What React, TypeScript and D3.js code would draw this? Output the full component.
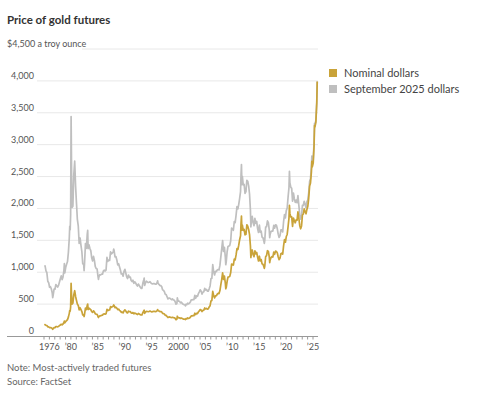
import * as d3 from "d3";

const DATES = [
  "1975-01","1975-03","1975-05","1975-07","1975-09","1975-11",
  "1976-01","1976-03","1976-05","1976-07","1976-08","1976-09","1976-11",
  "1977-01","1977-03","1977-05","1977-07","1977-09","1977-11",
  "1978-01","1978-03","1978-05","1978-07","1978-09","1978-10","1978-11",
  "1979-01","1979-03","1979-05","1979-07","1979-09","1979-10","1979-11","1979-12",
  "1980-01","1980-02","1980-03","1980-05","1980-07","1980-09","1980-11",
  "1981-01","1981-03","1981-05","1981-07","1981-09","1981-11",
  "1982-01","1982-03","1982-05","1982-06","1982-07","1982-09","1982-11",
  "1983-01","1983-02","1983-03","1983-05","1983-07","1983-09","1983-11",
  "1984-01","1984-03","1984-05","1984-07","1984-09","1984-11",
  "1985-01","1985-02","1985-03","1985-05","1985-07","1985-09","1985-11",
  "1986-01","1986-03","1986-05","1986-07","1986-09","1986-11",
  "1987-01","1987-03","1987-05","1987-07","1987-09","1987-11","1987-12",
  "1988-01","1988-03","1988-05","1988-07","1988-09","1988-11",
  "1989-01","1989-03","1989-05","1989-07","1989-09","1989-11",
  "1990-01","1990-03","1990-05","1990-07","1990-09","1990-11",
  "1991-01","1991-03","1991-05","1991-07","1991-09","1991-11",
  "1992-01","1992-03","1992-05","1992-07","1992-09","1992-11",
  "1993-01","1993-03","1993-05","1993-07","1993-08","1993-09","1993-11",
  "1994-01","1994-03","1994-05","1994-07","1994-09","1994-11",
  "1995-01","1995-03","1995-05","1995-07","1995-09","1995-11",
  "1996-01","1996-02","1996-03","1996-05","1996-07","1996-09","1996-11",
  "1997-01","1997-03","1997-05","1997-07","1997-09","1997-11",
  "1998-01","1998-03","1998-05","1998-07","1998-09","1998-11",
  "1999-01","1999-03","1999-05","1999-07","1999-09","1999-10","1999-11",
  "2000-01","2000-03","2000-05","2000-07","2000-09","2000-11",
  "2001-01","2001-03","2001-04","2001-05","2001-07","2001-09","2001-11",
  "2002-01","2002-03","2002-05","2002-07","2002-09","2002-11",
  "2003-01","2003-03","2003-05","2003-07","2003-09","2003-11",
  "2004-01","2004-03","2004-05","2004-07","2004-09","2004-11",
  "2005-01","2005-03","2005-05","2005-07","2005-09","2005-11",
  "2006-01","2006-03","2006-05","2006-07","2006-09","2006-11",
  "2007-01","2007-03","2007-05","2007-07","2007-09","2007-11",
  "2008-01","2008-03","2008-05","2008-07","2008-09","2008-10","2008-11",
  "2009-01","2009-03","2009-05","2009-07","2009-09","2009-11",
  "2010-01","2010-03","2010-05","2010-07","2010-09","2010-11",
  "2011-01","2011-03","2011-05","2011-07","2011-08","2011-09","2011-10","2011-11",
  "2012-01","2012-03","2012-05","2012-07","2012-09","2012-11",
  "2013-01","2013-03","2013-05","2013-06","2013-07","2013-09","2013-11",
  "2014-01","2014-03","2014-05","2014-07","2014-09","2014-11",
  "2015-01","2015-03","2015-05","2015-07","2015-09","2015-11","2015-12",
  "2016-01","2016-03","2016-05","2016-07","2016-09","2016-11","2016-12",
  "2017-01","2017-03","2017-05","2017-07","2017-09","2017-11",
  "2018-01","2018-03","2018-05","2018-07","2018-09","2018-11",
  "2019-01","2019-03","2019-05","2019-07","2019-09","2019-11",
  "2020-01","2020-03","2020-05","2020-07","2020-08","2020-09","2020-11",
  "2021-01","2021-03","2021-05","2021-07","2021-09","2021-11",
  "2022-01","2022-03","2022-05","2022-07","2022-09","2022-11",
  "2023-01","2023-03","2023-05","2023-07","2023-09","2023-11",
  "2024-01","2024-03","2024-05","2024-07","2024-09","2024-10","2024-11",
  "2025-01","2025-03","2025-04","2025-05","2025-07","2025-09","2025-10",
];

// nominal dollars per troy ounce
const NOMINAL = [
  176, 178, 167, 165, 144, 142,
  131, 133, 128, 118, 106, 114, 131,
  132, 148, 147, 144, 150, 162,
  173, 184, 176, 188, 212, 235, 206,
  227, 242, 257, 296, 355, 400, 392, 456,
  825, 640, 500, 515, 645, 710, 620,
  557, 500, 480, 410, 443, 413,
  384, 330, 333, 305, 340, 436, 415,
  480, 500, 415, 437, 422, 413, 382,
  370, 395, 377, 348, 341, 341,
  303, 290, 304, 317, 317, 323, 325,
  345, 346, 342, 348, 418, 398,
  408, 409, 460, 450, 460, 468, 487,
  477, 444, 451, 437, 413, 421,
  404, 390, 371, 375, 362, 393,
  410, 393, 369, 362, 390, 382,
  384, 363, 357, 368, 349, 360,
  354, 344, 337, 353, 345, 335,
  329, 330, 367, 392, 405, 355, 374,
  387, 384, 381, 385, 392, 384,
  379, 382, 385, 386, 383, 386,
  400, 414, 396, 392, 383, 383, 378,
  355, 352, 345, 324, 323, 306,
  289, 297, 299, 293, 289, 294,
  287, 286, 277, 256, 264, 310, 294,
  284, 286, 275, 282, 273, 266,
  266, 263, 258, 272, 268, 283, 276,
  282, 294, 314, 314, 319, 319,
  357, 336, 356, 351, 380, 393,
  414, 407, 384, 401, 406, 439,
  424, 434, 422, 424, 456, 476,
  549, 557, 700, 633, 598, 629,
  631, 655, 668, 665, 712, 806,
  889, 990, 889, 940, 829, 740, 760,
  858, 924, 928, 934, 996, 1128,
  1118, 1113, 1205, 1193, 1271, 1370,
  1356, 1424, 1510, 1572, 1760, 1880, 1660, 1739,
  1656, 1673, 1586, 1594, 1744, 1721,
  1670, 1593, 1414, 1230, 1286, 1349, 1276,
  1244, 1336, 1288, 1311, 1239, 1176,
  1251, 1179, 1199, 1131, 1125, 1086, 1060,
  1097, 1246, 1260, 1337, 1327, 1239, 1150,
  1192, 1231, 1246, 1237, 1315, 1281,
  1331, 1325, 1303, 1238, 1198, 1221,
  1291, 1300, 1284, 1413, 1511, 1470,
  1560, 1592, 1715, 1847, 2050, 1922, 1866,
  1867, 1718, 1850, 1807, 1775, 1822,
  1817, 1947, 1849, 1733, 1681, 1726,
  1898, 1913, 1992, 1951, 1916, 1985,
  2034, 2159, 2350, 2399, 2571, 2740, 2651,
  2710, 2983, 3300, 3280, 3350, 3665, 3990,
];

// September 2025 dollars per troy ounce
const REAL = [
  1096, 1098, 1020, 992, 858, 836,
  764, 773, 736, 673, 601, 643, 734,
  733, 807, 789, 768, 794, 847,
  898, 942, 884, 927, 1030, 1135, 989,
  1078, 1123, 1167, 1311, 1541, 1720, 1666, 1911,
  3440, 2624, 2015, 2034, 2522, 2741, 2350,
  2078, 1830, 1728, 1451, 1537, 1421,
  1321, 1132, 1129, 1025, 1132, 1448, 1374,
  1594, 1655, 1370, 1429, 1372, 1334, 1226,
  1177, 1248, 1184, 1086, 1057, 1050,
  930, 887, 927, 961, 957, 969, 969,
  1021, 1031, 1019, 1034, 1233, 1170,
  1191, 1186, 1320, 1287, 1302, 1315, 1364,
  1336, 1239, 1245, 1193, 1115, 1132,
  1083, 1034, 972, 975, 938, 1014,
  1046, 990, 926, 901, 956, 924,
  925, 871, 853, 876, 827, 850,
  832, 802, 782, 815, 794, 767,
  747, 746, 826, 878, 907, 792, 834,
  859, 849, 838, 843, 851, 833,
  819, 817, 820, 822, 812, 814,
  840, 865, 824, 811, 793, 789, 775,
  724, 715, 697, 654, 649, 615,
  581, 594, 595, 583, 572, 582,
  565, 563, 540, 499, 510, 598, 567,
  545, 543, 520, 530, 511, 497,
  492, 484, 472, 495, 490, 515, 505,
  516, 532, 568, 565, 571, 571,
  639, 591, 630, 621, 665, 692,
  725, 704, 657, 686, 694, 746,
  721, 729, 705, 704, 739, 785,
  900, 902, 1120, 1006, 957, 1013,
  1010, 1035, 1042, 1037, 1111, 1241,
  1369, 1495, 1325, 1391, 1235, 1117, 1163,
  1321, 1404, 1411, 1420, 1494, 1692,
  1677, 1658, 1795, 1778, 1894, 2028,
  1993, 2065, 2159, 2264, 2517, 2688, 2374, 2504,
  2368, 2376, 2236, 2263, 2442, 2427,
  2355, 2230, 1980, 1710, 1788, 1875, 1774,
  1729, 1844, 1765, 1796, 1685, 1623,
  1739, 1627, 1643, 1549, 1541, 1488, 1452,
  1503, 1707, 1714, 1805, 1778, 1660, 1541,
  1597, 1637, 1645, 1645, 1736, 1691,
  1744, 1736, 1681, 1597, 1545, 1575,
  1665, 1664, 1631, 1795, 1904, 1852,
  1966, 2006, 2178, 2327, 2583, 2403, 2333,
  2315, 2113, 2239, 2150, 2095, 2132,
  2090, 2200, 2052, 1906, 1832, 1881,
  2050, 2047, 2112, 2068, 2012, 2104,
  2136, 2245, 2421, 2471, 2648, 2822, 2731,
  2764, 3043, 3333, 3313, 3384, 3665, 3990,
];

const Y_TICKS = [0, 500, 1000, 1500, 2000, 2500, 3000, 3500, 4000];
const X_TICK_YEARS = [1976, 1980, 1985, 1990, 1995, 2000, 2005, 2010, 2015, 2020, 2025];
const X_TICK_LABELS = ["1976", "\u201980", "\u201985", "\u201990", "\u201995", "2000", "\u201905", "\u201910", "\u201915", "\u201920", "\u201925"];
const SERIES = ["Nominal dollars", "September 2025 dollars"];

const WIDTH = 478;
const HEIGHT = 396;
const GOLD = "#c9a339";
const GRAY = "#bfbfbf";
const FONT = "Lato, 'Noto Sans', sans-serif";

const parseMonth = (s: string) => {
  const [y, m] = s.split("-").map(Number);
  return new Date(y, m - 1, 15);
};

const App = () => {
  const x = d3
    .scaleTime()
    .domain([new Date(1975, 0, 1), new Date(2025, 0, 1)])
    .range([44, 313]);
  const y = d3.scaleLinear().domain([0, 4500]).range([336, 49]);

  const dates = DATES.map(parseMonth);
  const line = d3
    .line<number>()
    .x((_, i) => x(dates[i]))
    .y((d) => y(d));

  const allYears = d3.range(1975, 2026);

  return (
    <svg width={WIDTH} height={HEIGHT} style={{ position: "absolute", left: 0, top: 0 }} fontFamily={FONT}>
      <rect width={WIDTH} height={HEIGHT} fill="#fff" />
      <text x={7} y={24} fontSize={11.5} fontWeight={700} fill="#333">
        Price of gold futures
      </text>

      {/* gridlines */}
      <line x1={82} x2={318} y1={y(4500)} y2={y(4500)} stroke="#e8e8e8" />
      {Y_TICKS.filter((d) => d > 0).map((d) => (
        <line key={d} x1={37} x2={318} y1={y(d)} y2={y(d)} stroke="#e8e8e8" />
      ))}
      <text x={7} y={y(4500) - 2} fontSize={9} fill="#555">
        $4,500 a troy ounce
      </text>
      {Y_TICKS.map((d) => (
        <text key={d} x={34} y={y(d) - 2} fontSize={9} fill="#555" textAnchor="end">
          {d3.format(",")(d)}
        </text>
      ))}

      {/* x axis */}
      <line x1={7} x2={318} y1={336.5} y2={336.5} stroke="#999" />
      {allYears.map((yr) => (
        <line key={yr} x1={x(new Date(yr, 0, 1))} x2={x(new Date(yr, 0, 1))} y1={336.5} y2={339.5} stroke="#999" />
      ))}
      {X_TICK_YEARS.map((yr, i) => (
        <text key={yr} x={x(new Date(yr, 0, 1))} y={350} fontSize={9} fill="#555" textAnchor="middle">
          {X_TICK_LABELS[i]}
        </text>
      ))}

      <path d={line(REAL) || ""} fill="none" stroke={GRAY} strokeWidth={1.7} strokeLinejoin="round" />
      <path d={line(NOMINAL) || ""} fill="none" stroke={GOLD} strokeWidth={1.7} strokeLinejoin="round" />

      {/* legend */}
      {SERIES.map((s, i) => (
        <g key={s} transform={`translate(329,${69 + i * 16})`}>
          <rect width={8} height={8} fill={i === 0 ? GOLD : GRAY} />
          <text x={15} y={8} fontSize={11} fill="#444">
            {s}
          </text>
        </g>
      ))}

      <text x={7} y={371} fontSize={9.5} fill="#666">
        Note: Most-actively traded futures
      </text>
      <text x={7} y={385} fontSize={9.5} fill="#666">
        Source: FactSet
      </text>
    </svg>
  );
};

export default App;
